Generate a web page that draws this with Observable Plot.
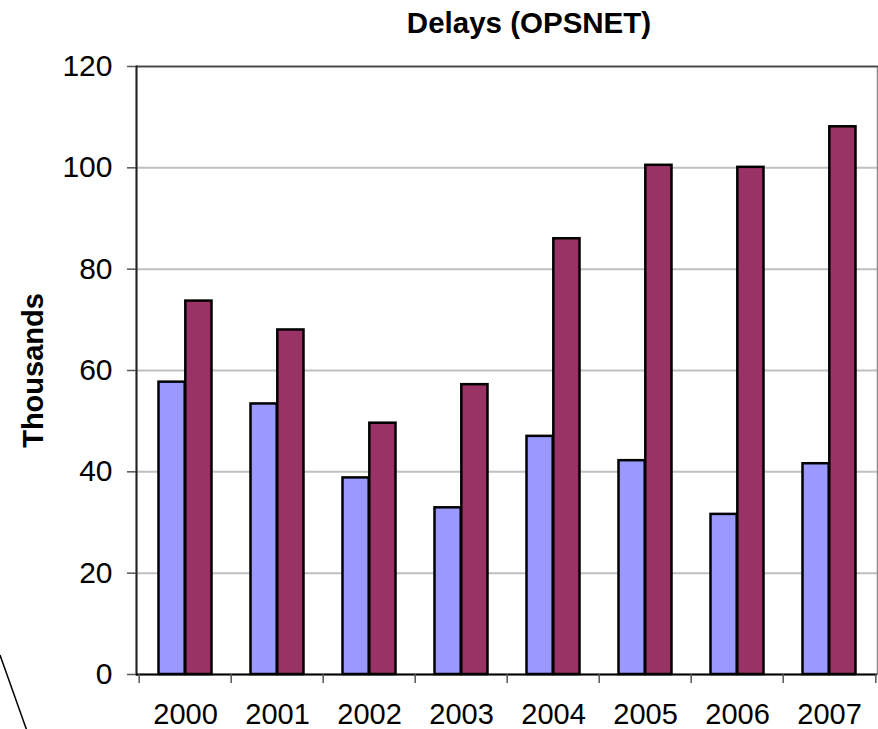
<!DOCTYPE html>
<html>
<head>
<meta charset="utf-8">
<script src="https://cdn.jsdelivr.net/npm/d3@7"></script>
<script src="https://cdn.jsdelivr.net/npm/@observablehq/plot@0.6"></script>
<style>
  html, body { margin: 0; padding: 0; background: #fff; }
  #wrap { position: relative; width: 878px; height: 729px; overflow: hidden; }
  #deco { position: absolute; left: 0; top: 0; pointer-events: none; }
</style>
</head>
<body>
<div id="wrap">
  <div id="chart"></div>
  <svg id="deco" width="878" height="729"><line x1="0" y1="655" x2="27" y2="731" stroke="#000" stroke-width="1.5"/></svg>
</div>
<script>
const title = "Delays (OPSNET)";
const yLabel = "Thousands";
const years = ["2000", "2001", "2002", "2003", "2004", "2005", "2006", "2007"];
const seriesNames = ["Series 1", "Series 2"];
const series1 = [57.7, 53.4, 38.8, 32.9, 47.0, 42.2, 31.6, 41.6];
const series2 = [73.7, 68.0, 49.6, 57.2, 86.0, 100.5, 100.1, 108.1];
const yTicks = [0, 20, 40, 60, 80, 100, 120];
const colors = ["#9999ff", "#993366"];

const rows = [];
years.forEach((yr, i) => {
  rows.push({year: yr, series: seriesNames[0], value: series1[i]});
  rows.push({year: yr, series: seriesNames[1], value: series2[i]});
});

const W = 878, H = 729, ML = 136, MR = 1, MT = 66, MB = 55;
const band = (W - ML - MR) / years.length;
const half = band / 2;
const outer = 19.5;
const font = "'Liberation Sans', Arial, Helvetica, sans-serif";

const chart = Plot.plot({
  width: W,
  height: H,
  marginLeft: ML,
  marginRight: MR,
  marginTop: MT,
  marginBottom: MB,
  style: {fontFamily: font, fontSize: "30px", background: "#fff", color: "#000"},
  x: {domain: years, type: "band", padding: 0, axis: null},
  y: {domain: [0, 120], axis: null},
  marks: [
    Plot.gridY(yTicks.filter(d => d > 0), {stroke: "#c0c0c0", strokeOpacity: 1, strokeWidth: 2}),
    Plot.frame({stroke: "#8a8a8a", strokeWidth: 1.5}),
    Plot.frame({anchor: "top", stroke: "#444", strokeWidth: 1.5}),
    Plot.barY(rows.filter(d => d.series === seriesNames[0]), {
      x: "year", y: "value", fill: colors[0], stroke: "#000", strokeWidth: 2.5,
      insetLeft: outer, insetRight: half
    }),
    Plot.barY(rows.filter(d => d.series === seriesNames[1]), {
      x: "year", y: "value", fill: colors[1], stroke: "#000", strokeWidth: 2.5,
      insetLeft: half, insetRight: outer
    }),
    Plot.frame({anchor: "left", stroke: "#222", strokeWidth: 2}),
    Plot.ruleY([0], {stroke: "#000", strokeWidth: 2}),
    Plot.axisY({ticks: yTicks, tickSize: 9, tickPadding: 15, fontSize: 30, stroke: "#555", strokeWidth: 1.5, label: null}),
    Plot.axisX({tickSize: 0, tickPadding: 29, fontSize: 29, label: null}),
    Plot.axisX({tickSize: 9, dx: -half, tickFormat: () => "", stroke: "#555", strokeWidth: 1.5, label: null}),
    Plot.axisX([years[years.length - 1]], {tickSize: 9, dx: half, tickFormat: () => "", stroke: "#555", strokeWidth: 1.5, label: null}),
    Plot.text([yLabel], {frameAnchor: "left", textAnchor: "middle", rotate: -90, dx: -103, fontSize: 29, fontWeight: "bold", lineAnchor: "middle"}),
    Plot.text([title], {frameAnchor: "top", textAnchor: "middle", dx: 22, dy: -43, fontSize: 29.5, fontWeight: "bold", lineAnchor: "middle"})
  ]
});
document.getElementById("chart").appendChild(chart);
</script>
</body>
</html>
